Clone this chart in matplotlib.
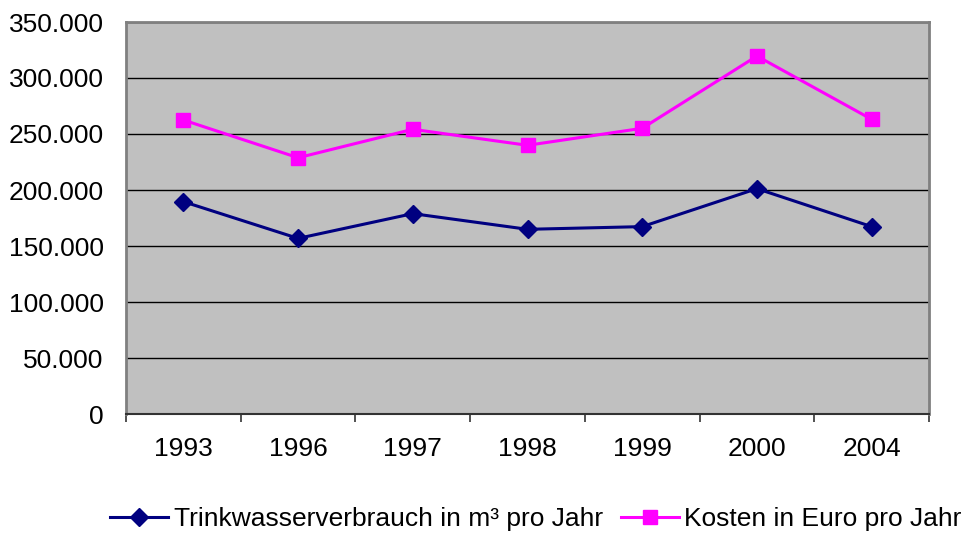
import matplotlib
matplotlib.use("Agg")
import matplotlib.pyplot as plt
from matplotlib.ticker import FuncFormatter, FixedLocator

plt.rcParams['font.family'] = ['Liberation Sans', 'DejaVu Sans']

years = ["1993", "1996", "1997", "1998", "1999", "2000", "2004"]
trinkwasser = [189600, 156800, 178900, 164900, 167300, 201200, 167300]
kosten = [262500, 228800, 254200, 239900, 255100, 319600, 263100]
yticks = [0, 50000, 100000, 150000, 200000, 250000, 300000, 350000]

fig = plt.figure(figsize=(9.73, 5.34), dpi=100)
ax = fig.add_axes([126/973, 1-414/534, (929-126)/973, (414-22)/534])
ax.set_facecolor('#C0C0C0')

x = list(range(len(years)))
ax.plot(x, trinkwasser, color='#000080', lw=2.2, marker='D', ms=9.5,
        label='Trinkwasserverbrauch in m³ pro Jahr', zorder=3)
ax.plot(x, kosten, color='#FF00FF', lw=2.2, marker='s', ms=10.5,
        label='Kosten in Euro pro Jahr', zorder=3)

ax.set_xlim(-0.5, len(years)-0.5)
ax.set_ylim(0, 350000)
ax.set_yticks(yticks)
ax.yaxis.set_major_formatter(FuncFormatter(lambda v, p: f"{int(v):,}".replace(',', '.')))
ax.set_xticks(x)
ax.set_xticklabels(years)
ax.xaxis.set_minor_locator(FixedLocator([i - 0.5 for i in range(len(years)+1)]))
ax.tick_params(axis='x', which='major', length=0, pad=16.5, labelsize=19)
ax.tick_params(axis='x', which='minor', length=6, width=1.2, color='#333333', direction='out')
ax.tick_params(axis='y', which='major', length=0, pad=16, labelsize=19)

ax.grid(axis='y', color='black', lw=1, zorder=1)
ax.set_axisbelow(True)
for s in ['left', 'top', 'right']:
    ax.spines[s].set_color('#808080')
    ax.spines[s].set_linewidth(2)
ax.spines['bottom'].set_color('#333333')
ax.spines['bottom'].set_linewidth(1.5)

fig.legend(loc='center', bbox_to_anchor=(536/973, 1-519/534), ncol=2, frameon=False,
           fontsize=19, handlelength=2.2, handletextpad=0.2, columnspacing=0.7,
           borderpad=0, borderaxespad=0)

fig.savefig('out.png', dpi=100)
